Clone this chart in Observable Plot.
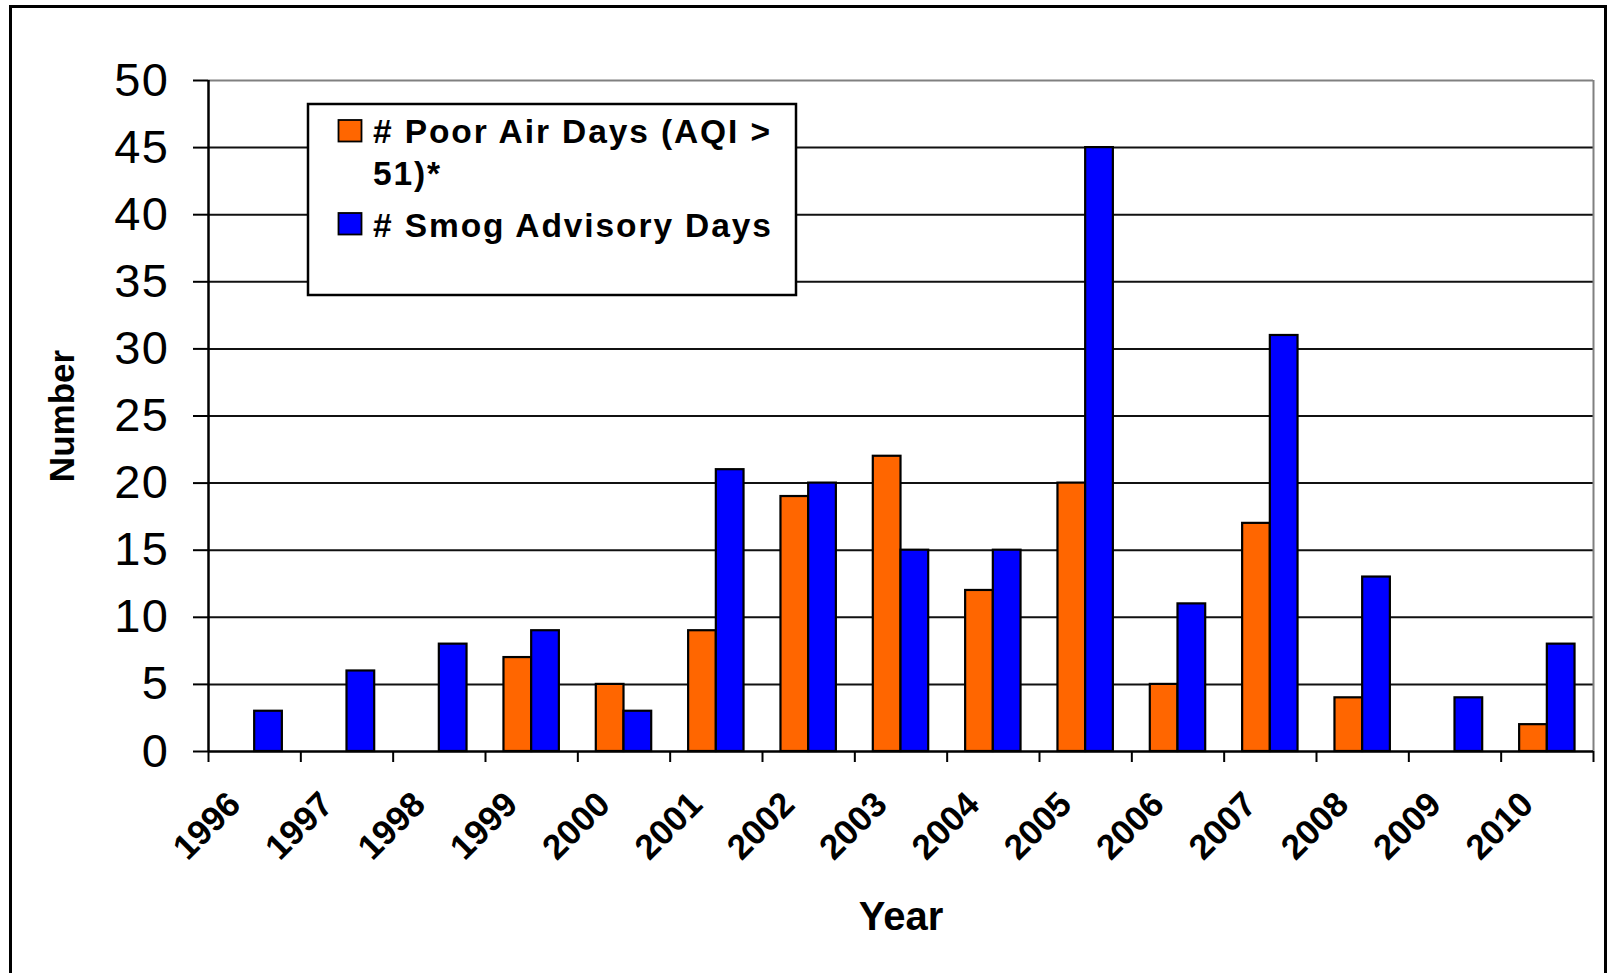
<!DOCTYPE html>
<html>
<head>
<meta charset="utf-8">
<script src="https://cdn.jsdelivr.net/npm/d3@7"></script>
<script src="https://cdn.jsdelivr.net/npm/@observablehq/plot@0.6"></script>
<style>
  html, body { margin: 0; padding: 0; background: #fff; overflow: hidden; }
  #wrap { position: relative; width: 1608px; height: 973px; }
  #chart svg { position: absolute; left: 0; top: 0; }
  #frame { position: absolute; left: 9px; top: 5px; width: 1598px; height: 1000px; border: 3px solid #000; box-sizing: border-box; pointer-events: none; }
  #legend { position: absolute; left: 0; top: 0; }
  g[aria-label="y-axis tick label"] text { letter-spacing: 1.5px; }
  g[aria-label="xlabels"] text { letter-spacing: 1px; }
  g[aria-label="ytitle"] text { letter-spacing: 3px; }
  g[aria-label="xtitle"] text { letter-spacing: 1.5px; }
</style>
</head>
<body>
<div id="wrap">
  <div id="chart"></div>
  <div id="frame"></div>
</div>
<script>
// ---- data ----
const years = [1996, 1997, 1998, 1999, 2000, 2001, 2002, 2003, 2004, 2005, 2006, 2007, 2008, 2009, 2010];
const poorAirDays = [0, 0, 0, 7, 5, 9, 19, 22, 12, 20, 5, 17, 4, 0, 2];
const smogAdvisoryDays = [3, 6, 8, 9, 3, 21, 20, 15, 15, 45, 11, 31, 13, 4, 8];
const seriesNames = ["# Poor Air Days (AQI > 51)*", "# Smog Advisory Days"];
const seriesColors = ["#FF6600", "#0000FF"];
const yTicks = [0, 5, 10, 15, 20, 25, 30, 35, 40, 45, 50];
const xTitle = "Year";
const yTitle = "Number";

// table for the library
const rows = [];
years.forEach((yr, k) => {
  rows.push({year: yr, series: seriesNames[0], i: 0, value: poorAirDays[k]});
  rows.push({year: yr, series: seriesNames[1], i: 1, value: smogAdvisoryDays[k]});
});
const bars = rows.filter(d => d.value > 0);
const boundaries = years.concat([years[years.length - 1] + 1]);

const W = 1608, H = 973;
const plot = Plot.plot({
  width: W,
  height: H,
  marginLeft: 208,
  marginRight: 15,
  marginTop: 80,
  marginBottom: 222,
  style: {fontFamily: "'Liberation Sans', Arial, sans-serif", background: "transparent", color: "#000"},
  x: {type: "linear", domain: [years[0], years[years.length - 1] + 1], axis: null},
  y: {domain: [0, 50], axis: null},
  color: {domain: seriesNames, range: seriesColors},
  marks: [
    // gridlines
    Plot.ruleY(yTicks.filter(v => v > 0 && v < 50), {stroke: "#111", strokeWidth: 2}),
    // plot area border (top & right) in grey
    Plot.ruleY([50], {stroke: "#808080", strokeWidth: 2}),
    Plot.ruleX([years[years.length - 1] + 1], {y1: 0, y2: 50, stroke: "#808080", strokeWidth: 2}),
    // bars
    Plot.rectY(bars, {
      x1: d => d.year + 0.2 + 0.3 * d.i,
      x2: d => d.year + 0.5 + 0.3 * d.i,
      y1: 0,
      y2: "value",
      fill: "series",
      stroke: "#000",
      strokeWidth: 2.2
    }),
    // y axis
    Plot.axisY({ticks: yTicks, tickSize: 15, tickPadding: 24, fontSize: 47, label: null, stroke: "#000", strokeWidth: 2, tickFormat: d => String(d)}),
    Plot.ruleX([years[0]], {y1: 0, y2: 50, stroke: "#000", strokeWidth: 2.5}),
    // x axis: ticks at category boundaries
    Plot.axisX({ticks: boundaries, tickSize: 11, tickFormat: () => "", label: null, stroke: "#000", strokeWidth: 2}),
    Plot.ruleY([0], {stroke: "#000", strokeWidth: 2.5}),
    // x tick labels (rotated, centered per category)
    Plot.text(years, {
      x: d => d + 0.5,
      frameAnchor: "bottom",
      text: d => String(d),
      rotate: -45,
      textAnchor: "end",
      lineAnchor: "middle",
      dx: -20,
      dy: 47,
      fontSize: 35,
      fontWeight: "bold",
      fill: "#000",
      ariaLabel: "xlabels"
    }),
    // axis titles
    Plot.text([xTitle], {frameAnchor: "bottom", textAnchor: "middle", lineAnchor: "middle", dy: 166, fontSize: 40, fontWeight: "bold", fill: "#000", ariaLabel: "xtitle"}),
    Plot.text([yTitle], {frameAnchor: "left", textAnchor: "middle", lineAnchor: "middle", dx: -146, rotate: -90, fontSize: 35, fontWeight: "bold", fill: "#000", ariaLabel: "ytitle"})
  ]
});
document.getElementById("chart").appendChild(plot);

// legend overlay (inside plot area, as in the original)
const lg = d3.select("#wrap").append("svg")
  .attr("id", "legend")
  .attr("width", W).attr("height", H)
  .style("font-family", "'Liberation Sans', Arial, sans-serif")
  .style("pointer-events", "none");
lg.append("rect").attr("x", 308).attr("y", 104).attr("width", 488).attr("height", 191)
  .attr("fill", "#fff").attr("stroke", "#000").attr("stroke-width", 2.5);
const entries = [
  {lines: ["# Poor Air Days (AQI >", "51)*"], color: seriesColors[0], top: 120, base: 143},
  {lines: [seriesNames[1]], color: seriesColors[1], top: 213, base: 237}
];
entries.forEach(e => {
  lg.append("rect").attr("x", 338.5).attr("y", e.top).attr("width", 23).attr("height", 21.5)
    .attr("fill", e.color).attr("stroke", "#000").attr("stroke-width", 1.8);
  e.lines.forEach((t, j) => {
    lg.append("text").attr("x", 373).attr("y", e.base + j * 42)
      .attr("font-size", 33.5).attr("font-weight", "bold").attr("letter-spacing", "1.9px")
      .attr("fill", "#000").text(t);
  });
});
</script>
</body>
</html>
